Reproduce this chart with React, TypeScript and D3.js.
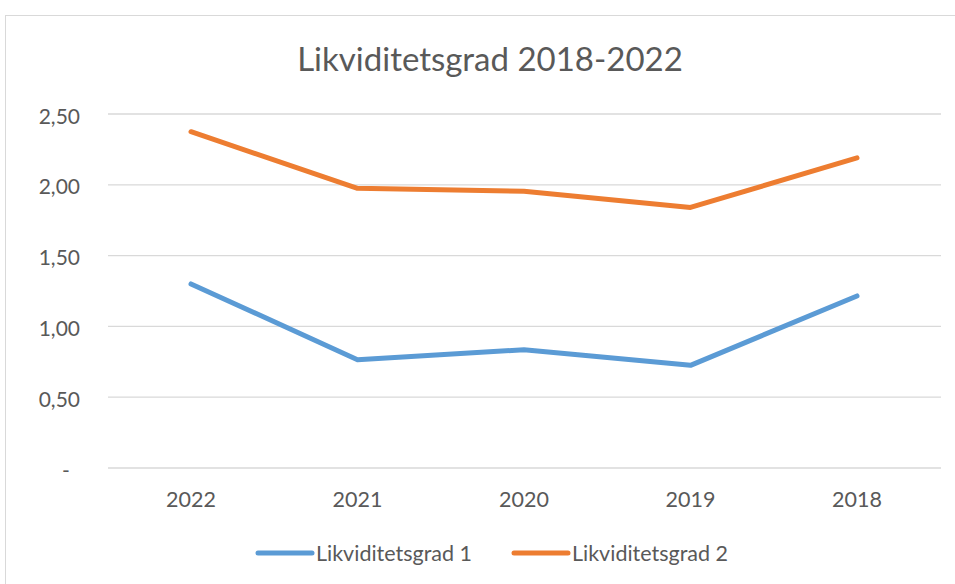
import React from "react";
import * as d3 from "d3";

const categories = ["2022", "2021", "2020", "2019", "2018"];
const seriesNames = ["Likviditetsgrad 1", "Likviditetsgrad 2"];
const likviditetsgrad1 = [1.3, 0.765, 0.835, 0.725, 1.215];
const likviditetsgrad2 = [2.375, 1.975, 1.955, 1.84, 2.19];
const yTicks = [0, 0.5, 1, 1.5, 2, 2.5];
const colors = ["#5B9BD5", "#ED7D31"];

const W = 955;
const H = 584;
const FONT = "Lato, 'Open Sans', sans-serif";

export default function App() {
  const x = d3.scalePoint<string>().domain(categories).range([191, 857]);
  const y = d3.scaleLinear().domain([0, 2.5]).range([468, 114]);
  const line = d3
    .line<number>()
    .x((_, i) => x(categories[i]) as number)
    .y((d) => y(d));
  const fmt = (v: number) => (v === 0 ? "-" : d3.format(".2f")(v).replace(".", ","));
  const series = [likviditetsgrad1, likviditetsgrad2];
  const legendX = [258, 514];

  return (
    <div style={{ position: "absolute", left: 0, top: 0 }}>
      <svg width={W} height={H} style={{ display: "block", background: "#fff" }}>
        <rect x={5.5} y={15.5} width={970} height={600} fill="#fff" stroke="#D9D9D9" />
        <text x={490} y={71} textAnchor="middle" fontFamily={FONT} fontSize={33} fill="#595959">
          Likviditetsgrad 2018-2022
        </text>
        {yTicks.map((t) => (
          <g key={t}>
            <line x1={108} x2={941} y1={y(t)} y2={y(t)} stroke="#D9D9D9" strokeWidth={1.3} />
            <text
              x={t === 0 ? 66 : 80}
              y={y(t) + 1}
              textAnchor={t === 0 ? "middle" : "end"}
              dominantBaseline="central"
              fontFamily={FONT}
              fontSize={21}
              fill="#595959"
            >
              {fmt(t)}
            </text>
          </g>
        ))}
        {categories.map((c) => (
          <text key={c} x={x(c)} y={499} textAnchor="middle" dominantBaseline="central" fontFamily={FONT} fontSize={21.5} fill="#595959">
            {c}
          </text>
        ))}
        {series.map((s, i) => (
          <path key={i} d={line(s) || ""} fill="none" stroke={colors[i]} strokeWidth={5} strokeLinecap="round" strokeLinejoin="round" />
        ))}
        {seriesNames.map((n, i) => (
          <g key={n}>
            <line x1={legendX[i]} x2={legendX[i] + 54} y1={553} y2={553} stroke={colors[i]} strokeWidth={5} strokeLinecap="round" />
            <text x={legendX[i] + 58} y={553} dominantBaseline="central" fontFamily={FONT} fontSize={21.5} fill="#595959">
              {n}
            </text>
          </g>
        ))}
      </svg>
    </div>
  );
}
